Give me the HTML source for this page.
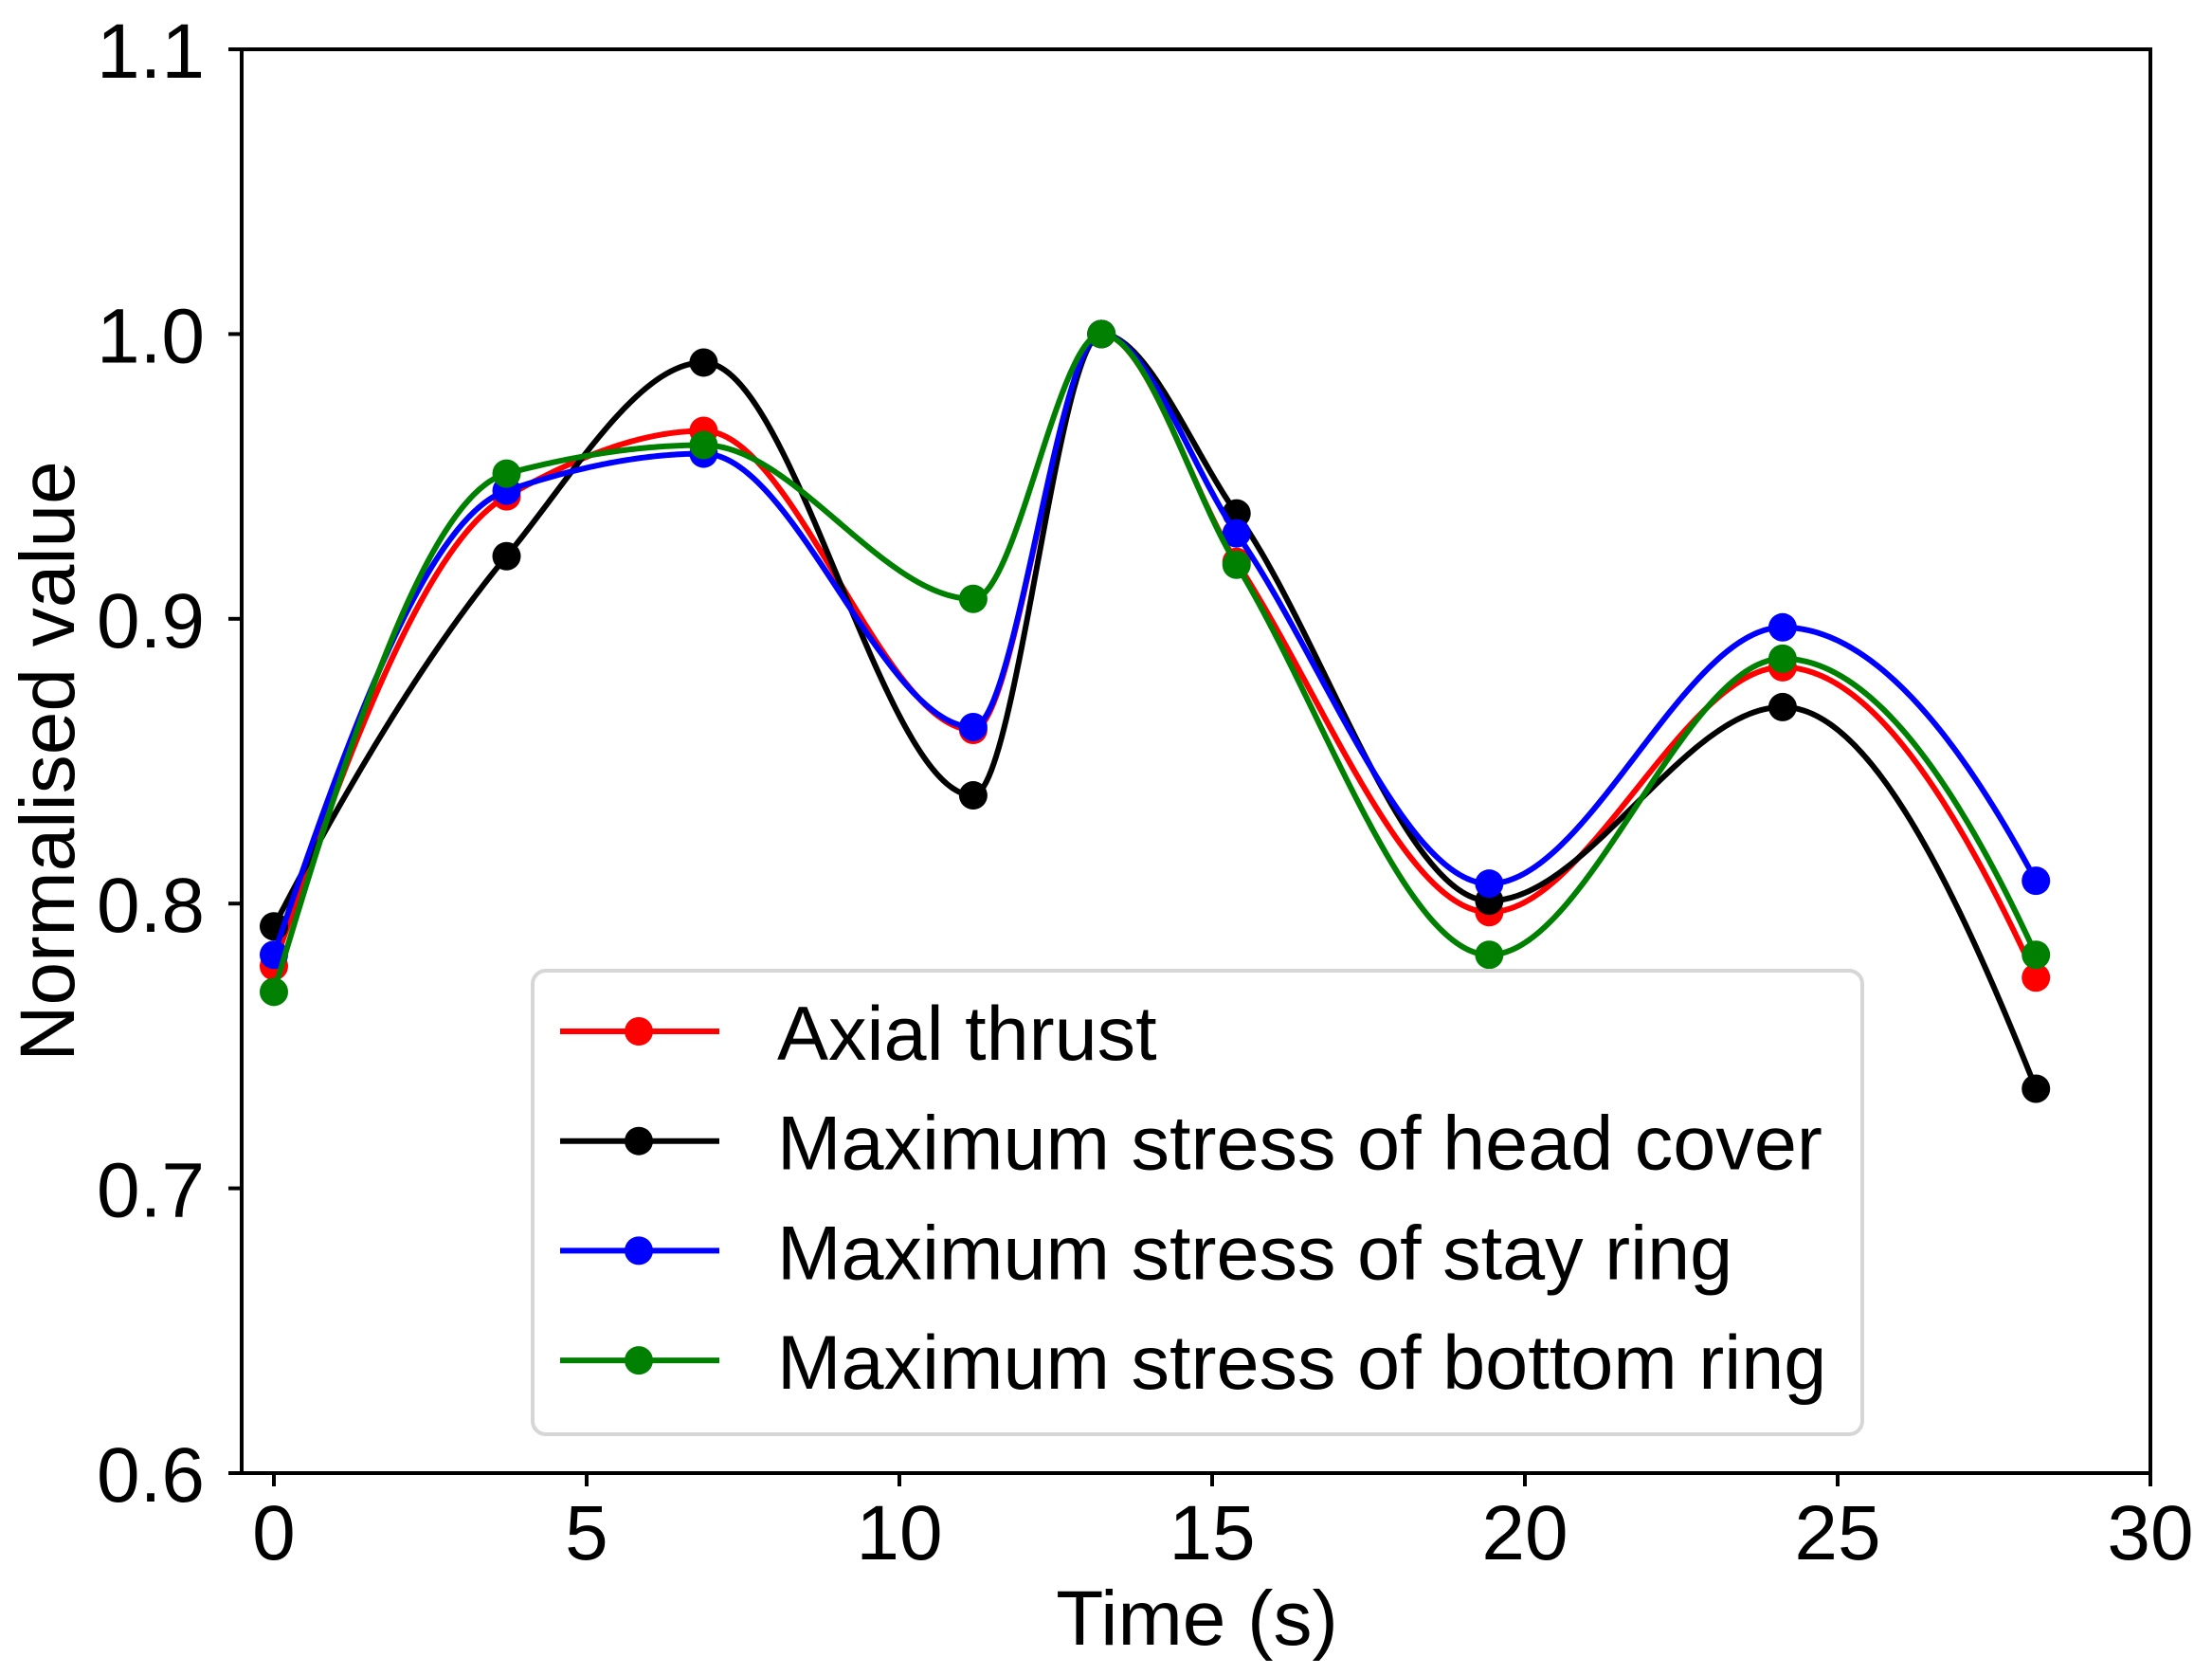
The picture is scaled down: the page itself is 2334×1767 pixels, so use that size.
<!DOCTYPE html>
<html><head><meta charset="utf-8"><style>
html,body{margin:0;padding:0;background:#fff;}
svg{display:block;font-family:"Liberation Sans",Arial,sans-serif;}
</style></head><body>
<svg id="chart" width="2334" height="1767" viewBox="0 0 2334 1767" xmlns="http://www.w3.org/2000/svg">
<rect x="0" y="0" width="2334" height="1767" fill="#fff"/>
<g id="plot"></g>
<g id="axes"></g>
<g id="legend"></g>
</svg>
<script>
const times = [0, 3.72, 6.87, 11.18, 13.23, 15.39, 19.43, 24.12, 28.17];
const axialThrust = [0.778, 0.943, 0.966, 0.861, 1.0, 0.920, 0.797, 0.883, 0.774];
const headCover = [0.792, 0.922, 0.990, 0.838, 1.0, 0.937, 0.801, 0.869, 0.735];
const stayRing = [0.782, 0.945, 0.958, 0.862, 1.0, 0.930, 0.807, 0.897, 0.808];
const bottomRing = [0.769, 0.951, 0.961, 0.907, 1.0, 0.919, 0.782, 0.886, 0.782];
const seriesNames = ["Axial thrust", "Maximum stress of head cover", "Maximum stress of stay ring", "Maximum stress of bottom ring"];
const xTicks = [0, 5, 10, 15, 20, 25, 30];
const yTicks = [0.6, 0.7, 0.8, 0.9, 1.0, 1.1];

const NS = "http://www.w3.org/2000/svg";
const L = 255, R = 2269, T = 52, B = 1554;
const xMin = -0.515, xMax = 30, yMin = 0.6, yMax = 1.1;
function sx(v){ return L + (v - xMin) / (xMax - xMin) * (R - L); }
function sy(v){ return B - (v - yMin) / (yMax - yMin) * (B - T); }
function mk(tag, attrs, parent){ const e = document.createElementNS(NS, tag); for (const k in attrs) e.setAttribute(k, attrs[k]); parent.appendChild(e); return e; }

function pchip(xs, ys){
  const n = xs.length, h = [], m = [], d = new Array(n).fill(0);
  for (let i=0;i<n-1;i++){ h.push(xs[i+1]-xs[i]); m.push((ys[i+1]-ys[i])/h[i]); }
  for (let k=1;k<n-1;k++){
    if (m[k-1]*m[k] <= 0) d[k] = 0;
    else { const w1 = 2*h[k]+h[k-1], w2 = h[k]+2*h[k-1]; d[k] = (w1+w2)/(w1/m[k-1]+w2/m[k]); }
  }
  function edge(h0,h1,m0,m1){
    let dd = ((2*h0+h1)*m0 - h0*m1)/(h0+h1);
    if (Math.sign(dd) !== Math.sign(m0)) dd = 0;
    else if (Math.sign(m0) !== Math.sign(m1) && Math.abs(dd) > Math.abs(3*m0)) dd = 3*m0;
    return dd;
  }
  d[0] = edge(h[0],h[1],m[0],m[1]);
  d[n-1] = edge(h[n-2],h[n-3],m[n-2],m[n-3]);
  return function(x){
    let i=0; while (i<n-2 && x>xs[i+1]) i++;
    const t = (x-xs[i])/h[i], t2=t*t, t3=t2*t;
    return (2*t3-3*t2+1)*ys[i] + (t3-2*t2+t)*h[i]*d[i] + (-2*t3+3*t2)*ys[i+1] + (t3-t2)*h[i]*d[i+1];
  };
}

const plot = document.getElementById("plot");
const axes = document.getElementById("axes");
const legend = document.getElementById("legend");
const seriesData = [axialThrust, headCover, stayRing, bottomRing];
const colors = ["#ff0000", "#000000", "#0000ff", "#008000"];
const keys = ["axial-thrust", "head-cover", "stay-ring", "bottom-ring"];

seriesData.forEach((ys, si) => {
  const g = mk("g", {}, plot);
  
  
  const f = pchip(times, ys);
  const x0 = times[0], x1 = times[times.length-1];
  let d = "";
  for (let k=0;k<=700;k++){ const x = x0 + (x1-x0)*k/700; d += (k?"L":"M") + sx(x).toFixed(2) + "," + sy(f(x)).toFixed(2); }
  const p = mk("path", {d: d, fill: "none", stroke: colors[si], "stroke-width": 6, "stroke-linejoin": "round"}, g);
  
  
  ys.forEach((v, i) => {
    const c = mk("circle", {cx: sx(times[i]), cy: sy(v), r: 15, fill: colors[si]}, g);
    
    
  });
});

const fr = mk("rect", {x: L, y: T, width: R-L, height: B-T, fill: "none", stroke: "#000", "stroke-width": 4}, axes);



xTicks.forEach(v => {
  const x = sx(v);
  const t = mk("line", {x1: x, y1: B, x2: x, y2: B+14, stroke: "#000", "stroke-width": 4}, axes);
  
  
  const tx = mk("text", {x: x, y: 1645, "font-size": 82, "text-anchor": "middle", fill: "#000"}, axes);
  tx.textContent = String(v);
  
  
});
yTicks.forEach(v => {
  const y = sy(v);
  const t = mk("line", {x1: L-14, y1: y, x2: L, y2: y, stroke: "#000", "stroke-width": 4}, axes);
  
  
  const tx = mk("text", {x: 216, y: y + 30, "font-size": 82, "text-anchor": "end", fill: "#000"}, axes);
  tx.textContent = v.toFixed(1);
  
  
});
const xl = mk("text", {x: 1263, y: 1735, "font-size": 82, "text-anchor": "middle", fill: "#000"}, axes);
xl.textContent = "Time (s)";


const yl = mk("text", {x: 0, y: 0, "font-size": 82, "text-anchor": "middle", fill: "#000", transform: "translate(78,803) rotate(-90)"}, axes);
yl.textContent = "Normalised value";



const lb = mk("rect", {x: 562, y: 1024, width: 1403, height: 489, rx: 14, fill: "#fff", "fill-opacity": 0.8, stroke: "#d6d6d6", "stroke-width": 4}, legend);


seriesNames.forEach((nm, i) => {
  const cy = 1088 + i * 115.7;
  const g = mk("g", {}, legend);
  
  
  mk("line", {x1: 591, y1: cy, x2: 759, y2: cy, stroke: colors[i], "stroke-width": 6}, g);
  mk("circle", {cx: 674, cy: cy, r: 15, fill: colors[i]}, g);
  const t = mk("text", {x: 820, y: cy + 30, "font-size": 81, fill: "#000"}, g);
  t.textContent = nm;
});
</script>
</body></html>
